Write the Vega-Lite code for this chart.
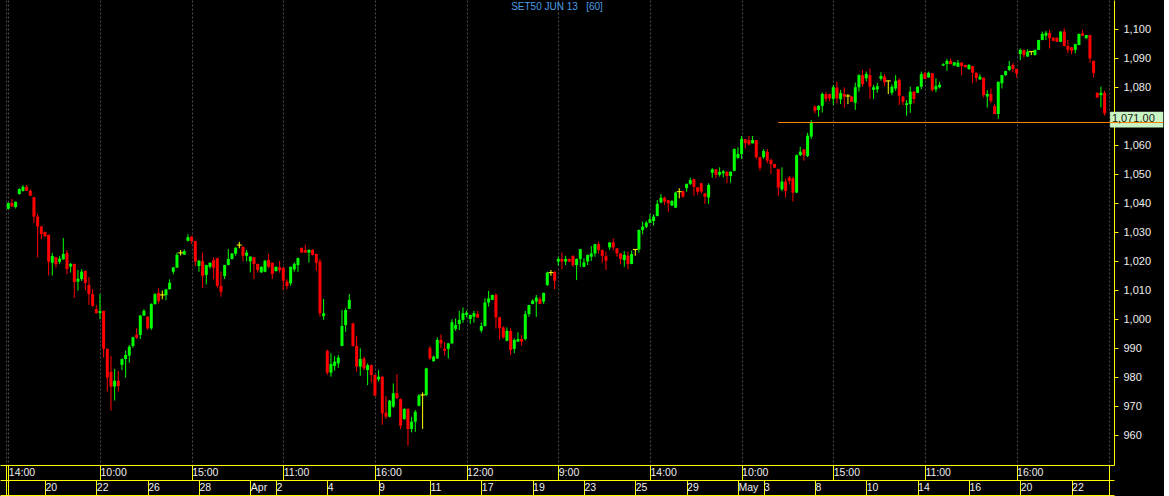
{
"$schema": "https://vega.github.io/schema/vega-lite/v6.json",
"width": 1114, "height": 465, "padding": 0,
"autosize": {"type": "pad"},
"background": "#000000",
"config": {"view": {"stroke": null}, "axis": {"labelFont": "Liberation Sans", "labelFontSize": 11, "labelColor": "#eeeeee", "domainColor": "#ffff00", "tickColor": "#ffff00", "domainWidth": 1, "tickWidth": 1, "grid": false, "labelOverlap": false, "labelFlush": false, "labelBound": false, "title": null}},
"datasets": {
"bars": [
{"i":0,"o":1038.1,"h":1040.3,"l":1038.0,"c":1040.1},
{"i":1,"o":1040.1,"h":1041.5,"l":1038.8,"c":1038.9},
{"i":2,"o":1038.7,"h":1040.6,"l":1038.2,"c":1040.5},
{"i":3,"o":1043.2,"h":1045.2,"l":1043.0,"c":1044.9},
{"i":4,"o":1044.3,"h":1046.2,"l":1044.0,"c":1045.7},
{"i":5,"o":1045.7,"h":1046.3,"l":1044.2,"c":1044.3},
{"i":6,"o":1044.3,"h":1044.8,"l":1042.5,"c":1042.6},
{"i":7,"o":1042.1,"h":1042.2,"l":1033.3,"c":1035.4},
{"i":8,"o":1035.4,"h":1036.3,"l":1021.3,"c":1032.0},
{"i":9,"o":1032.0,"h":1032.2,"l":1027.6,"c":1029.4},
{"i":10,"o":1030.1,"h":1030.3,"l":1028.2,"c":1028.7},
{"i":11,"o":1029.1,"h":1029.2,"l":1015.1,"c":1019.9},
{"i":12,"o":1019.5,"h":1022.9,"l":1015.1,"c":1021.8},
{"i":13,"o":1021.4,"h":1021.6,"l":1017.8,"c":1019.0},
{"i":14,"o":1019.8,"h":1021.8,"l":1019.0,"c":1020.9},
{"i":15,"o":1020.7,"h":1028.0,"l":1020.5,"c":1022.5},
{"i":16,"o":1022.9,"h":1023.9,"l":1015.5,"c":1017.3},
{"i":17,"o":1018.2,"h":1019.4,"l":1016.1,"c":1019.1},
{"i":18,"o":1019.1,"h":1019.2,"l":1007.4,"c":1012.8},
{"i":19,"o":1013.0,"h":1017.0,"l":1009.9,"c":1014.0},
{"i":20,"o":1013.9,"h":1017.3,"l":1013.2,"c":1016.4},
{"i":21,"o":1016.7,"h":1016.8,"l":1010.1,"c":1012.6},
{"i":22,"o":1011.8,"h":1014.6,"l":1005.0,"c":1008.7},
{"i":23,"o":1008.7,"h":1010.4,"l":1004.4,"c":1004.6},
{"i":24,"o":1003.5,"h":1005.0,"l":1002.0,"c":1002.1},
{"i":25,"o":1002.2,"h":1008.7,"l":1000.0,"c":1002.8},
{"i":26,"o":1002.9,"h":1003.0,"l":986.8,"c":989.8},
{"i":27,"o":989.8,"h":990.0,"l":975.1,"c":979.9},
{"i":28,"o":981.9,"h":987.4,"l":968.5,"c":976.8},
{"i":29,"o":976.8,"h":982.9,"l":972.0,"c":978.8},
{"i":30,"o":978.8,"h":982.2,"l":975.1,"c":977.0},
{"i":31,"o":984.3,"h":986.5,"l":982.5,"c":986.3},
{"i":32,"o":986.3,"h":989.2,"l":979.9,"c":987.7},
{"i":33,"o":987.5,"h":991.1,"l":985.0,"c":990.6},
{"i":34,"o":990.8,"h":994.0,"l":990.2,"c":993.8},
{"i":35,"o":994.7,"h":996.9,"l":993.2,"c":993.7},
{"i":36,"o":994.6,"h":1001.5,"l":993.2,"c":1001.3},
{"i":37,"o":1001.3,"h":1003.5,"l":1001.2,"c":1002.9},
{"i":38,"o":1000.9,"h":1001.0,"l":996.3,"c":996.9},
{"i":39,"o":996.9,"h":1005.5,"l":996.3,"c":1005.3},
{"i":40,"o":1005.3,"h":1009.0,"l":1005.0,"c":1008.7},
{"i":41,"o":1009.1,"h":1010.7,"l":1005.4,"c":1006.3},
{"i":42,"o":1008.4,"h":1009.9,"l":1006.9,"c":1008.4},
{"i":43,"o":1008.3,"h":1010.5,"l":1006.6,"c":1010.3},
{"i":44,"o":1010.4,"h":1013.8,"l":1010.2,"c":1012.6},
{"i":45,"o":1016.4,"h":1018.0,"l":1015.5,"c":1017.9},
{"i":46,"o":1017.8,"h":1023.0,"l":1017.7,"c":1022.2},
{"i":47,"o":1022.9,"h":1023.9,"l":1022.0,"c":1022.9},
{"i":48,"o":1022.3,"h":1024.1,"l":1022.2,"c":1023.5},
{"i":49,"o":1027.1,"h":1029.3,"l":1026.8,"c":1028.3},
{"i":50,"o":1028.5,"h":1028.6,"l":1026.0,"c":1027.0},
{"i":51,"o":1027.0,"h":1027.1,"l":1018.4,"c":1019.9},
{"i":52,"o":1018.4,"h":1020.4,"l":1016.4,"c":1020.2},
{"i":53,"o":1020.1,"h":1023.0,"l":1010.7,"c":1015.0},
{"i":54,"o":1015.3,"h":1018.8,"l":1012.0,"c":1018.7},
{"i":55,"o":1018.1,"h":1019.6,"l":1017.5,"c":1019.5},
{"i":56,"o":1020.4,"h":1021.4,"l":1013.8,"c":1017.8},
{"i":57,"o":1021.1,"h":1021.2,"l":1010.9,"c":1011.5},
{"i":58,"o":1011.5,"h":1016.4,"l":1007.8,"c":1009.5},
{"i":59,"o":1014.9,"h":1018.8,"l":1013.9,"c":1018.7},
{"i":60,"o":1018.7,"h":1024.2,"l":1018.6,"c":1020.8},
{"i":61,"o":1020.8,"h":1022.8,"l":1020.6,"c":1022.7},
{"i":62,"o":1022.6,"h":1024.8,"l":1021.9,"c":1024.7},
{"i":63,"o":1025.6,"h":1026.7,"l":1024.5,"c":1025.6},
{"i":64,"o":1025.0,"h":1025.1,"l":1020.0,"c":1021.9},
{"i":65,"o":1021.9,"h":1023.9,"l":1020.0,"c":1023.0},
{"i":66,"o":1020.0,"h":1021.7,"l":1016.2,"c":1021.6},
{"i":67,"o":1021.4,"h":1021.5,"l":1013.9,"c":1019.1},
{"i":68,"o":1019.1,"h":1019.2,"l":1016.1,"c":1017.0},
{"i":69,"o":1016.2,"h":1018.3,"l":1016.0,"c":1018.1},
{"i":70,"o":1016.4,"h":1020.4,"l":1016.2,"c":1020.2},
{"i":71,"o":1020.4,"h":1022.5,"l":1017.6,"c":1018.1},
{"i":72,"o":1019.5,"h":1019.6,"l":1013.9,"c":1015.6},
{"i":73,"o":1016.6,"h":1018.2,"l":1016.5,"c":1018.1},
{"i":74,"o":1017.9,"h":1020.1,"l":1016.1,"c":1017.0},
{"i":75,"o":1017.8,"h":1017.9,"l":1010.1,"c":1013.3},
{"i":76,"o":1013.0,"h":1013.8,"l":1010.4,"c":1011.5},
{"i":77,"o":1012.4,"h":1018.2,"l":1011.6,"c":1018.1},
{"i":78,"o":1017.2,"h":1019.6,"l":1016.4,"c":1019.1},
{"i":79,"o":1018.7,"h":1021.3,"l":1016.4,"c":1021.1},
{"i":80,"o":1024.6,"h":1024.8,"l":1022.9,"c":1023.0},
{"i":81,"o":1023.9,"h":1025.8,"l":1022.9,"c":1023.0},
{"i":82,"o":1023.0,"h":1024.2,"l":1019.5,"c":1023.9},
{"i":83,"o":1023.9,"h":1024.2,"l":1022.0,"c":1022.2},
{"i":84,"o":1022.5,"h":1022.6,"l":1016.7,"c":1019.5},
{"i":85,"o":1019.9,"h":1020.8,"l":1000.9,"c":1002.1},
{"i":86,"o":1001.1,"h":1007.0,"l":999.8,"c":1002.1},
{"i":87,"o":989.1,"h":989.6,"l":980.8,"c":981.6},
{"i":88,"o":981.6,"h":988.3,"l":980.2,"c":984.6},
{"i":89,"o":983.9,"h":987.3,"l":982.3,"c":985.4},
{"i":90,"o":984.8,"h":987.7,"l":983.3,"c":986.8},
{"i":91,"o":990.8,"h":1003.2,"l":990.7,"c":997.7},
{"i":92,"o":998.0,"h":1003.8,"l":995.7,"c":1003.2},
{"i":93,"o":1003.6,"h":1008.7,"l":1003.5,"c":1006.7},
{"i":94,"o":998.6,"h":998.8,"l":990.6,"c":990.8},
{"i":95,"o":990.8,"h":994.2,"l":981.9,"c":983.7},
{"i":96,"o":983.7,"h":990.0,"l":980.5,"c":986.3},
{"i":97,"o":986.5,"h":987.0,"l":982.5,"c":983.1},
{"i":98,"o":982.5,"h":984.8,"l":977.3,"c":984.2},
{"i":99,"o":984.2,"h":984.4,"l":978.2,"c":980.8},
{"i":100,"o":980.8,"h":981.0,"l":973.5,"c":973.7},
{"i":101,"o":979.3,"h":982.5,"l":978.5,"c":980.2},
{"i":102,"o":980.2,"h":980.4,"l":963.6,"c":967.6},
{"i":103,"o":967.8,"h":973.5,"l":965.6,"c":966.4},
{"i":104,"o":966.4,"h":972.2,"l":966.2,"c":971.9},
{"i":105,"o":969.9,"h":977.9,"l":969.5,"c":974.5},
{"i":106,"o":974.5,"h":981.1,"l":972.6,"c":972.8},
{"i":107,"o":972.5,"h":972.7,"l":962.2,"c":963.3},
{"i":108,"o":965.6,"h":969.3,"l":965.4,"c":969.1},
{"i":109,"o":969.1,"h":969.3,"l":956.4,"c":962.2},
{"i":110,"o":962.2,"h":966.4,"l":961.0,"c":964.7},
{"i":111,"o":964.7,"h":968.7,"l":961.2,"c":968.1},
{"i":112,"o":970.2,"h":974.2,"l":970.0,"c":973.7},
{"i":113,"o":973.9,"h":974.8,"l":962.2,"c":973.9},
{"i":114,"o":973.9,"h":983.3,"l":973.5,"c":983.1},
{"i":115,"o":990.0,"h":990.8,"l":986.0,"c":986.5},
{"i":116,"o":985.6,"h":987.5,"l":985.3,"c":987.1},
{"i":117,"o":986.5,"h":993.8,"l":986.3,"c":992.9},
{"i":118,"o":992.9,"h":994.8,"l":990.0,"c":991.7},
{"i":119,"o":989.8,"h":992.2,"l":987.5,"c":989.2},
{"i":120,"o":989.8,"h":991.9,"l":986.5,"c":991.7},
{"i":121,"o":991.7,"h":1000.0,"l":991.5,"c":999.0},
{"i":122,"o":996.7,"h":1000.3,"l":996.0,"c":998.0},
{"i":123,"o":998.4,"h":1002.9,"l":996.3,"c":999.8},
{"i":124,"o":999.8,"h":1004.1,"l":998.8,"c":1002.1},
{"i":125,"o":1001.5,"h":1003.0,"l":1000.7,"c":1002.3},
{"i":126,"o":1000.1,"h":1001.6,"l":998.4,"c":1001.5},
{"i":127,"o":1000.9,"h":1002.9,"l":998.8,"c":1002.1},
{"i":128,"o":1001.8,"h":1002.9,"l":1000.5,"c":1000.6},
{"i":129,"o":996.1,"h":998.9,"l":995.4,"c":997.7},
{"i":130,"o":997.7,"h":1007.2,"l":997.5,"c":1005.8},
{"i":131,"o":1005.8,"h":1009.8,"l":1004.4,"c":1007.2},
{"i":132,"o":1006.7,"h":1008.5,"l":1006.6,"c":1008.4},
{"i":133,"o":1008.4,"h":1009.0,"l":996.8,"c":1000.7},
{"i":134,"o":1000.7,"h":1000.8,"l":993.0,"c":996.9},
{"i":135,"o":997.2,"h":997.5,"l":993.3,"c":993.8},
{"i":136,"o":992.6,"h":997.2,"l":992.4,"c":996.0},
{"i":137,"o":996.0,"h":996.9,"l":987.7,"c":989.4},
{"i":138,"o":989.8,"h":993.4,"l":988.3,"c":992.9},
{"i":139,"o":992.3,"h":995.5,"l":992.2,"c":993.2},
{"i":140,"o":993.2,"h":994.6,"l":990.9,"c":992.3},
{"i":141,"o":993.2,"h":1002.9,"l":992.7,"c":1001.8},
{"i":142,"o":1001.8,"h":1005.0,"l":1000.9,"c":1004.9},
{"i":143,"o":1005.3,"h":1006.9,"l":1005.2,"c":1006.4},
{"i":144,"o":1006.1,"h":1008.4,"l":1000.8,"c":1007.5},
{"i":145,"o":1007.0,"h":1007.8,"l":1005.2,"c":1005.3},
{"i":146,"o":1006.1,"h":1009.2,"l":1005.3,"c":1009.1},
{"i":147,"o":1011.8,"h":1016.4,"l":1011.5,"c":1016.1},
{"i":148,"o":1016.1,"h":1017.0,"l":1015.0,"c":1016.1},
{"i":149,"o":1016.4,"h":1016.5,"l":1010.3,"c":1013.3},
{"i":150,"o":1019.9,"h":1021.6,"l":1018.5,"c":1020.8},
{"i":151,"o":1020.8,"h":1023.0,"l":1017.3,"c":1019.9},
{"i":152,"o":1019.9,"h":1021.9,"l":1018.7,"c":1020.8},
{"i":153,"o":1020.8,"h":1021.0,"l":1019.7,"c":1019.9},
{"i":154,"o":1021.9,"h":1022.0,"l":1018.1,"c":1018.7},
{"i":155,"o":1018.7,"h":1021.0,"l":1013.5,"c":1020.8},
{"i":156,"o":1020.8,"h":1024.3,"l":1018.1,"c":1024.2},
{"i":157,"o":1018.1,"h":1021.0,"l":1018.0,"c":1019.6},
{"i":158,"o":1019.9,"h":1022.3,"l":1018.7,"c":1022.2},
{"i":159,"o":1021.6,"h":1025.3,"l":1020.1,"c":1022.7},
{"i":160,"o":1022.7,"h":1026.0,"l":1021.6,"c":1025.9},
{"i":161,"o":1025.9,"h":1026.8,"l":1022.7,"c":1023.9},
{"i":162,"o":1023.9,"h":1024.0,"l":1019.5,"c":1021.9},
{"i":163,"o":1021.8,"h":1023.3,"l":1017.0,"c":1020.2},
{"i":164,"o":1024.8,"h":1026.6,"l":1023.9,"c":1026.5},
{"i":165,"o":1026.5,"h":1027.9,"l":1023.7,"c":1024.8},
{"i":166,"o":1024.5,"h":1024.6,"l":1021.6,"c":1022.7},
{"i":167,"o":1022.7,"h":1022.8,"l":1018.9,"c":1020.8},
{"i":168,"o":1020.4,"h":1023.5,"l":1018.1,"c":1022.2},
{"i":169,"o":1021.9,"h":1023.3,"l":1017.3,"c":1019.1},
{"i":170,"o":1019.1,"h":1023.7,"l":1019.0,"c":1022.5},
{"i":171,"o":1024.1,"h":1024.2,"l":1021.9,"c":1024.1},
{"i":172,"o":1024.1,"h":1031.0,"l":1023.0,"c":1030.8},
{"i":173,"o":1030.8,"h":1033.7,"l":1029.3,"c":1031.9},
{"i":174,"o":1031.9,"h":1033.9,"l":1031.4,"c":1033.3},
{"i":175,"o":1033.3,"h":1036.3,"l":1033.1,"c":1034.5},
{"i":176,"o":1033.9,"h":1036.2,"l":1032.3,"c":1035.4},
{"i":177,"o":1035.6,"h":1041.1,"l":1035.5,"c":1039.8},
{"i":178,"o":1040.3,"h":1043.2,"l":1040.0,"c":1041.9},
{"i":179,"o":1041.9,"h":1042.3,"l":1039.4,"c":1040.6},
{"i":180,"o":1041.1,"h":1041.2,"l":1037.1,"c":1040.0},
{"i":181,"o":1039.2,"h":1041.1,"l":1039.1,"c":1040.8},
{"i":182,"o":1038.5,"h":1044.0,"l":1038.4,"c":1043.7},
{"i":183,"o":1044.0,"h":1045.2,"l":1041.7,"c":1044.0},
{"i":184,"o":1044.2,"h":1044.3,"l":1041.9,"c":1042.3},
{"i":185,"o":1045.2,"h":1046.8,"l":1044.0,"c":1046.7},
{"i":186,"o":1046.7,"h":1048.9,"l":1046.3,"c":1048.0},
{"i":187,"o":1048.3,"h":1048.4,"l":1042.6,"c":1045.7},
{"i":188,"o":1045.5,"h":1045.6,"l":1042.9,"c":1044.0},
{"i":189,"o":1046.9,"h":1047.0,"l":1043.4,"c":1044.0},
{"i":190,"o":1043.4,"h":1043.6,"l":1039.8,"c":1042.3},
{"i":191,"o":1042.0,"h":1046.9,"l":1039.8,"c":1046.3},
{"i":192,"o":1050.5,"h":1052.1,"l":1048.8,"c":1051.7},
{"i":193,"o":1051.7,"h":1051.8,"l":1048.6,"c":1049.8},
{"i":194,"o":1049.8,"h":1052.4,"l":1049.2,"c":1050.8},
{"i":195,"o":1050.3,"h":1051.5,"l":1048.9,"c":1051.0},
{"i":196,"o":1050.9,"h":1051.0,"l":1046.9,"c":1049.4},
{"i":197,"o":1049.4,"h":1051.0,"l":1047.1,"c":1050.9},
{"i":198,"o":1051.2,"h":1058.9,"l":1051.0,"c":1058.7},
{"i":199,"o":1055.7,"h":1059.3,"l":1055.3,"c":1057.0},
{"i":200,"o":1057.0,"h":1063.2,"l":1055.3,"c":1062.2},
{"i":201,"o":1062.1,"h":1062.2,"l":1058.9,"c":1060.7},
{"i":202,"o":1061.8,"h":1063.2,"l":1059.9,"c":1060.3},
{"i":203,"o":1060.7,"h":1063.2,"l":1060.6,"c":1061.8},
{"i":204,"o":1061.8,"h":1061.9,"l":1055.3,"c":1055.9},
{"i":205,"o":1055.9,"h":1056.0,"l":1051.3,"c":1052.3},
{"i":206,"o":1055.9,"h":1058.7,"l":1055.3,"c":1058.0},
{"i":207,"o":1057.8,"h":1058.7,"l":1053.8,"c":1054.7},
{"i":208,"o":1054.9,"h":1055.5,"l":1050.1,"c":1053.5},
{"i":209,"o":1053.5,"h":1053.6,"l":1052.2,"c":1052.3},
{"i":210,"o":1051.8,"h":1051.9,"l":1042.5,"c":1045.4},
{"i":211,"o":1044.8,"h":1052.4,"l":1044.2,"c":1047.5},
{"i":212,"o":1047.5,"h":1048.5,"l":1042.0,"c":1044.2},
{"i":213,"o":1048.9,"h":1049.4,"l":1046.5,"c":1047.7},
{"i":214,"o":1048.6,"h":1049.2,"l":1040.6,"c":1043.7},
{"i":215,"o":1043.7,"h":1056.8,"l":1043.5,"c":1056.6},
{"i":216,"o":1056.6,"h":1059.5,"l":1056.3,"c":1057.8},
{"i":217,"o":1058.6,"h":1058.7,"l":1054.7,"c":1056.6},
{"i":218,"o":1056.3,"h":1064.3,"l":1055.9,"c":1063.3},
{"i":219,"o":1063.0,"h":1068.7,"l":1062.2,"c":1067.9},
{"i":220,"o":1073.3,"h":1073.8,"l":1071.0,"c":1071.9},
{"i":221,"o":1072.2,"h":1073.8,"l":1069.9,"c":1073.6},
{"i":222,"o":1073.6,"h":1078.2,"l":1071.3,"c":1077.7},
{"i":223,"o":1077.6,"h":1078.3,"l":1075.0,"c":1076.0},
{"i":224,"o":1077.7,"h":1077.8,"l":1075.3,"c":1076.2},
{"i":225,"o":1076.0,"h":1080.8,"l":1073.9,"c":1080.0},
{"i":226,"o":1079.9,"h":1081.9,"l":1074.5,"c":1076.2},
{"i":227,"o":1075.9,"h":1079.1,"l":1074.2,"c":1078.0},
{"i":228,"o":1077.7,"h":1080.0,"l":1073.0,"c":1076.8},
{"i":229,"o":1077.0,"h":1077.7,"l":1074.2,"c":1077.0},
{"i":230,"o":1076.8,"h":1077.0,"l":1074.9,"c":1075.0},
{"i":231,"o":1074.7,"h":1081.6,"l":1072.2,"c":1080.0},
{"i":232,"o":1080.0,"h":1084.5,"l":1078.5,"c":1084.2},
{"i":233,"o":1084.2,"h":1086.0,"l":1080.2,"c":1081.1},
{"i":234,"o":1083.1,"h":1085.4,"l":1082.0,"c":1084.6},
{"i":235,"o":1084.2,"h":1086.5,"l":1076.0,"c":1080.2},
{"i":236,"o":1079.1,"h":1080.8,"l":1076.0,"c":1080.0},
{"i":237,"o":1079.3,"h":1081.6,"l":1078.1,"c":1080.4},
{"i":238,"o":1082.9,"h":1085.2,"l":1082.3,"c":1083.9},
{"i":239,"o":1083.7,"h":1084.6,"l":1080.4,"c":1081.7},
{"i":240,"o":1082.2,"h":1082.3,"l":1077.7,"c":1082.2},
{"i":241,"o":1078.1,"h":1081.0,"l":1077.3,"c":1080.2},
{"i":242,"o":1079.6,"h":1084.2,"l":1078.8,"c":1082.2},
{"i":243,"o":1082.5,"h":1083.1,"l":1073.9,"c":1077.1},
{"i":244,"o":1076.8,"h":1077.0,"l":1073.9,"c":1075.0},
{"i":245,"o":1073.9,"h":1075.6,"l":1070.2,"c":1074.5},
{"i":246,"o":1074.2,"h":1080.2,"l":1071.2,"c":1078.5},
{"i":247,"o":1078.5,"h":1078.6,"l":1074.5,"c":1076.0},
{"i":248,"o":1078.1,"h":1080.3,"l":1078.0,"c":1080.2},
{"i":249,"o":1080.2,"h":1085.4,"l":1079.3,"c":1084.6},
{"i":250,"o":1084.8,"h":1085.4,"l":1082.8,"c":1082.9},
{"i":251,"o":1083.4,"h":1085.4,"l":1083.3,"c":1085.0},
{"i":252,"o":1084.8,"h":1085.0,"l":1078.5,"c":1079.1},
{"i":253,"o":1079.3,"h":1083.1,"l":1078.3,"c":1080.4},
{"i":254,"o":1080.0,"h":1081.9,"l":1079.6,"c":1080.9},
{"i":255,"o":1087.5,"h":1088.3,"l":1087.3,"c":1088.0},
{"i":256,"o":1088.0,"h":1089.8,"l":1085.7,"c":1089.1},
{"i":257,"o":1089.1,"h":1090.0,"l":1087.9,"c":1088.0},
{"i":258,"o":1087.5,"h":1088.7,"l":1087.4,"c":1088.6},
{"i":259,"o":1087.1,"h":1089.4,"l":1087.0,"c":1088.5},
{"i":260,"o":1088.5,"h":1088.6,"l":1084.2,"c":1087.3},
{"i":261,"o":1087.7,"h":1087.8,"l":1086.8,"c":1086.9},
{"i":262,"o":1086.3,"h":1088.0,"l":1086.0,"c":1087.7},
{"i":263,"o":1087.3,"h":1087.4,"l":1081.4,"c":1085.0},
{"i":264,"o":1085.0,"h":1085.1,"l":1081.9,"c":1083.2},
{"i":265,"o":1082.7,"h":1084.6,"l":1082.6,"c":1083.7},
{"i":266,"o":1083.3,"h":1083.4,"l":1076.5,"c":1077.3},
{"i":267,"o":1076.8,"h":1079.0,"l":1073.0,"c":1077.7},
{"i":268,"o":1077.7,"h":1079.6,"l":1074.5,"c":1075.3},
{"i":269,"o":1073.5,"h":1074.2,"l":1070.7,"c":1070.8},
{"i":270,"o":1070.8,"h":1082.0,"l":1069.1,"c":1081.9},
{"i":271,"o":1081.4,"h":1084.3,"l":1079.6,"c":1084.2},
{"i":272,"o":1084.2,"h":1085.7,"l":1083.9,"c":1085.6},
{"i":273,"o":1086.0,"h":1089.1,"l":1085.6,"c":1087.3},
{"i":274,"o":1087.7,"h":1088.3,"l":1085.2,"c":1086.3},
{"i":275,"o":1086.3,"h":1086.4,"l":1083.4,"c":1084.8},
{"i":276,"o":1091.5,"h":1093.4,"l":1089.4,"c":1092.9},
{"i":277,"o":1092.9,"h":1093.0,"l":1090.3,"c":1091.1},
{"i":278,"o":1090.6,"h":1093.1,"l":1090.5,"c":1092.3},
{"i":279,"o":1092.3,"h":1092.4,"l":1091.1,"c":1092.3},
{"i":280,"o":1091.1,"h":1093.0,"l":1091.0,"c":1092.9},
{"i":281,"o":1092.9,"h":1096.4,"l":1092.8,"c":1096.3},
{"i":282,"o":1096.3,"h":1099.2,"l":1096.2,"c":1098.4},
{"i":283,"o":1097.8,"h":1099.5,"l":1096.3,"c":1098.8},
{"i":284,"o":1098.8,"h":1099.8,"l":1093.4,"c":1096.9},
{"i":285,"o":1097.1,"h":1097.2,"l":1095.9,"c":1096.0},
{"i":286,"o":1097.1,"h":1097.2,"l":1095.6,"c":1095.7},
{"i":287,"o":1095.7,"h":1099.3,"l":1095.6,"c":1099.2},
{"i":288,"o":1099.2,"h":1100.3,"l":1094.1,"c":1094.2},
{"i":289,"o":1094.2,"h":1096.3,"l":1091.7,"c":1092.9},
{"i":290,"o":1093.8,"h":1093.9,"l":1091.4,"c":1092.6},
{"i":291,"o":1092.9,"h":1095.0,"l":1091.7,"c":1094.9},
{"i":292,"o":1094.6,"h":1098.5,"l":1094.5,"c":1098.4},
{"i":293,"o":1098.6,"h":1099.8,"l":1097.7,"c":1097.8},
{"i":294,"o":1096.9,"h":1098.1,"l":1096.8,"c":1098.0},
{"i":295,"o":1098.0,"h":1098.1,"l":1088.5,"c":1090.0},
{"i":296,"o":1089.1,"h":1089.2,"l":1083.4,"c":1085.0},
{"i":297,"o":1078.1,"h":1078.3,"l":1076.3,"c":1076.5},
{"i":298,"o":1077.3,"h":1080.2,"l":1073.1,"c":1078.1},
{"i":299,"o":1078.1,"h":1078.8,"l":1070.2,"c":1071.0}
],
"level": [{"start": 210, "level": 1067.86}],
"last": [{"price": 1071, "label": "1,071.00"}],
"heading": [{"text": "SET50 JUN 13 \u00a0\u00a0[60]"}]
},
"resolve": {"axis": {"x": "independent", "y": "independent"}},
"layer": [
{
"data": {"name": "bars"},
"mark": {"type": "rule", "strokeWidth": 1},
"encoding": {
"x": {"field": "i", "type": "quantitative", "scale": {"domain": [-0.9, 300.2], "nice": false, "zero": false},
"axis": {"orient": "bottom", "offset": 0, "values": [-0.6,0,25,50,75,100,125,150,175,200,225,250,275,300.2], "tickSize": 15, "labelAlign": "left", "labelBaseline": "middle", "labelPadding": -7.5, "labelDx": 4, "labelFontSize": 10.5,
"labelExpr": "['','14:00','10:00','15:00','11:00','16:00','12:00','9:00','14:00','10:00','15:00','11:00','16:00',''][indexof([-0.6,0,25,50,75,100,125,150,175,200,225,250,275,300.2], datum.value)]",
"grid": true, "gridColor": "#4d4d4d", "gridDash": [2, 2], "gridWidth": 1}},
"y": {"field": "l", "type": "quantitative", "scale": {"domain": [949.76, 1110.1], "nice": false, "zero": false},
"axis": {"orient": "right", "values": [960,970,980,990,1000,1010,1020,1030,1040,1050,1060,1070,1080,1090,1100], "labelExpr": "datum.value == 1070 ? '' : format(datum.value, ',d')", "tickSize": 4, "labelPadding": 5, "labelBaseline": "middle"}},
"y2": {"field": "h"},
"color": {"condition": [{"test": "datum.c > datum.o", "value": "#00ff00"}, {"test": "datum.c < datum.o", "value": "#ff0000"}], "value": "#ffff00"}
}
},
{
"data": {"name": "bars"},
"mark": {"type": "bar", "size": 3},
"encoding": {
"x": {"field": "i", "type": "quantitative",
"axis": {"orient": "bottom", "offset": 15, "values": [-0.6,0,10,24,38,52,66,73,87,101,115,129,143,157,171,185,199,206,220,234,248,262,276,290,300.2], "tickSize": 15, "labelAlign": "left", "labelBaseline": "middle", "labelPadding": -7.5, "labelDx": 4, "labelFontSize": 10.5,
"labelExpr": "['','','20','22','26','28','Apr','2','4','9','11','17','19','23','25','29','May','3','8','10','14','16','20','22',''][indexof([-0.6,0,10,24,38,52,66,73,87,101,115,129,143,157,171,185,199,206,220,234,248,262,276,290,300.2], datum.value)]",
"grid": false}},
"y": {"field": "o", "type": "quantitative", "axis": null},
"y2": {"field": "c"},
"color": {"condition": [{"test": "datum.c > datum.o", "value": "#00ff00"}, {"test": "datum.c < datum.o", "value": "#ff0000"}], "value": "#ffff00"}
}
},
{
"data": {"name": "bars"},
"transform": [{"filter": "datum.o == datum.c"}],
"mark": {"type": "tick", "orient": "horizontal", "size": 5, "thickness": 1, "color": "#ffff00", "opacity": 1},
"encoding": {
"x": {"field": "i", "type": "quantitative",
"axis": {"orient": "bottom", "offset": 30, "ticks": false, "labels": false, "grid": false, "domain": true}},
"y": {"field": "o", "type": "quantitative", "axis": null}
}
},
{
"data": {"name": "last"},
"mark": {"type": "rect", "fill": "#c9f5c4", "yOffset": -1.7},
"encoding": {
"x": {"datum": 300.5, "type": "quantitative", "axis": null},
"x2": {"datum": 315.0},
"y": {"field": "price", "type": "quantitative", "axis": null},
"y2": {"datum": 1066.1}
}
},
{
"data": {"name": "level"},
"mark": {"type": "rule", "color": "#ff8000", "strokeWidth": 1},
"encoding": {
"x": {"field": "start", "type": "quantitative", "axis": null},
"x2": {"datum": 315.0},
"y": {"field": "level", "type": "quantitative", "axis": null}
}
},
{
"data": {"name": "last"},
"mark": {"type": "text", "align": "left", "baseline": "top", "font": "Liberation Sans", "fontSize": 11, "color": "#1a1a1a"},
"encoding": {
"x": {"datum": 301.0, "type": "quantitative", "axis": null},
"y": {"field": "price", "type": "quantitative", "axis": null},
"text": {"field": "label"}
}
},
{
"data": {"name": "heading"},
"mark": {"type": "text", "align": "center", "baseline": "top", "font": "Liberation Sans", "fontSize": 10, "color": "#4d9de6", "dy": 2},
"encoding": {
"x": {"datum": 149.65, "type": "quantitative", "axis": null},
"y": {"datum": 1110.1, "type": "quantitative", "axis": null},
"text": {"field": "text"}
}
}
]
}
